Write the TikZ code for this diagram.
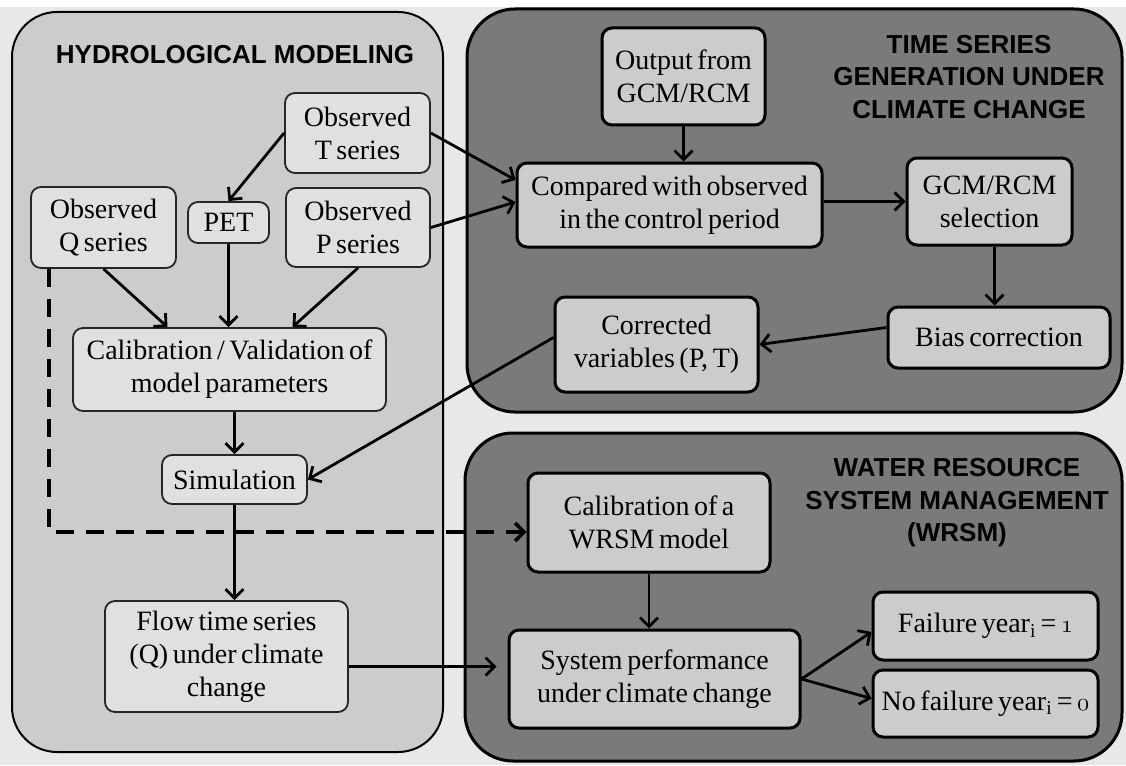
\documentclass[tikz,border=0pt]{standalone}
\usepackage{fontspec}
\setmainfont{Liberation Serif}[WordSpace=0.65]
\newfontfamily\headfont{Liberation Sans}
\newcommand\osnum[1]{{\usefont{OML}{cmm}{m}{it}#1}}
\usetikzlibrary{arrows.meta}

\begin{document}
\begin{tikzpicture}[x=1pt,y=-1pt,
  every node/.style={font=\fontsize{28}{33}\selectfont,align=center},
  lbox/.style={draw=black!85,line width=1.8pt,rounded corners=10pt,fill=black!12,inner sep=1pt},
  dbox/.style={draw=black,line width=3pt,rounded corners=10pt,fill=black!20,inner sep=1pt},
  head/.style={font=\headfont\bfseries\fontsize{26}{32.5}\selectfont},
  flow/.style={line width=2.8pt,-{Straight Barb[length=9pt,width=18pt]}}]
\useasboundingbox (0,0) rectangle (1126,765);
\fill[black!9] (0,0) rectangle (1126,765);
\fill[white] (0,0) rectangle (1126,7);
% Panels
\draw[line width=2pt,fill=black!20,rounded corners=45pt] (12,12) rectangle (443,752);
\draw[line width=3pt,fill=black!52,rounded corners=48pt] (467,9) rectangle (1122,412);
\draw[line width=3pt,fill=black!52,rounded corners=48pt] (465,433) rectangle (1122,761);
\node[head] (hmT) at (235,55) {HYDROLOGICAL MODELING};
\node[head] (tsT) at (969,77) {TIME SERIES\\GENERATION UNDER\\CLIMATE CHANGE};
\node[head] (wrT) at (957,503) {WATER RESOURCE\\SYSTEM MANAGEMENT\\(WRSM)};
% Hydrological modeling
\node[lbox,minimum width=145,minimum height=80] (obsT) at (357.5,133) {Observed\\T series};
\node[lbox,minimum width=81,minimum height=41] (pet) at (228.5,222.5) {PET};
\node[lbox,minimum width=145,minimum height=81] (obsQ) at (103.5,227.5) {Observed\\Q series};
\node[lbox,minimum width=144,minimum height=79] (obsP) at (358,227.5) {Observed\\P series};
\node[lbox,minimum width=313,minimum height=83] (calib) at (229.5,369.5) {Calibration / Validation of\\model parameters};
\node[lbox,minimum width=145,minimum height=49] (sim) at (234.5,479.5) {Simulation};
\node[lbox,minimum width=243,minimum height=111] (flowQ) at (226.5,656.5) {Flow time series\\(Q) under climate\\change};
% Time series under climate change
\node[dbox,minimum width=163,minimum height=97] (gcm) at (683.5,76.5) {Output from\\GCM/RCM};
\node[dbox,minimum width=305,minimum height=84] (comp) at (669.5,205) {Compared with observed\\in the control period};
\node[dbox,minimum width=165,minimum height=87] (sel) at (989.5,201.5) {GCM/RCM\\selection};
\node[dbox,minimum width=222,minimum height=61] (bias) at (999,337.5) {Bias correction};
\node[dbox,minimum width=203,minimum height=95] (corr) at (656.5,344.5) {Corrected\\variables (P, T)};
% WRSM
\node[dbox,minimum width=242,minimum height=99] (wcal) at (649,522.5) {Calibration of a\\WRSM model};
\node[dbox,minimum width=291,minimum height=98] (sys) at (654.5,679) {System performance\\under climate change};
\node[dbox,minimum width=225,minimum height=68] (fail) at (985.5,626) {Failure year\textsubscript{i} = \osnum{1}};
\node[dbox,minimum width=225,minimum height=67] (nofail) at (985.5,703.5) {No failure year\textsubscript{i} = \osnum{0}};
% Arrows
\draw[flow] (obsT.west) -- (pet.north);
\draw[flow] (obsQ.south) -- ([xshift=-62pt]calib.north);
\draw[flow] (pet.south) -- (pet.south |- calib.north);
\draw[flow] (obsP.south) -- ([xshift=63pt]calib.north);
\draw[flow] (sim.north |- calib.south) -- (sim.north);
\draw[flow] (sim.south) -- (sim.south |- flowQ.north);
\draw[flow] (obsT.east) -- ([yshift=25pt]comp.west);
\draw[flow] (obsP.east) -- ([yshift=3pt]comp.west);
\draw[flow] (gcm.south) -- (gcm.south |- comp.north);
\draw[flow] (sel.west -| comp.east) -- (sel.west);
\draw[flow] ([xshift=5pt]sel.south) -- ([xshift=5pt]sel.south |- bias.north);
\draw[flow] ([yshift=10pt]bias.west) -- (corr.east);
\draw[flow] ([yshift=7pt]corr.west) -- (sim.east);
\draw[flow,line width=3.4pt,dash pattern=on 18pt off 12pt] ([xshift=-54.5pt]obsQ.south) |- ([yshift=-9.5pt]wcal.west);
\draw[flow,shorten >=11pt] ([yshift=-10pt]flowQ.east) -- ([yshift=-10pt]flowQ.east -| sys.west);
\draw[flow] (wcal.south) -- (wcal.south |- sys.north);
\draw[flow] (sys.east) -- ([yshift=-6pt]fail.west);
\draw[flow] (sys.east) -- ([yshift=5pt]nofail.west);
\end{tikzpicture}
\end{document}
